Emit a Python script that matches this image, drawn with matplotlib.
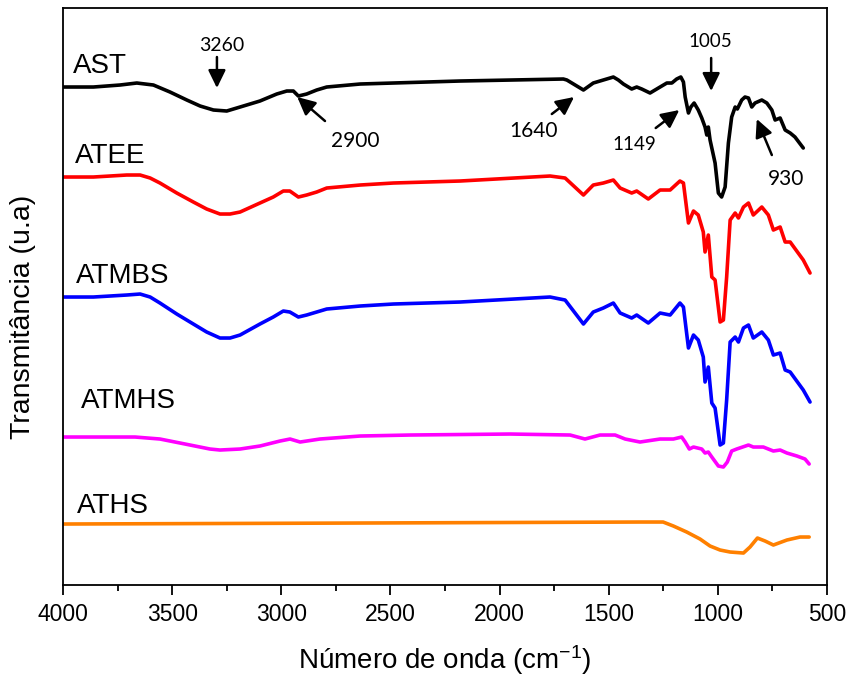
import numpy as np
import matplotlib
matplotlib.use('Agg')
import matplotlib.pyplot as plt

plt.rcParams['font.family'] = ['Liberation Sans', 'DejaVu Sans']
plt.rcParams['mathtext.fontset'] = 'custom'
plt.rcParams['mathtext.rm'] = 'Liberation Sans'

# FTIR spectra, values (arbitrary transmittance units, curves stacked)
ast_wn = [4000, 3861, 3739, 3662, 3586, 3510, 3433, 3372, 3311, 3250, 3189, 3098, 3021, 2975, 2945,
          2922, 2884, 2838, 2792, 2639, 2487, 2181,
          1708, 1692, 1654, 1616, 1571, 1479, 1456, 1433, 1395, 1372, 1349, 1311, 1265, 1234, 1211,
          1189, 1170, 1158, 1150, 1135, 1124, 1109, 1090, 1074, 1059, 1051, 1044, 1036, 1013, 998,
          983, 967, 952, 937, 921, 911, 891, 876, 860, 845, 830, 799, 776, 753, 738, 715, 692, 669,
          647, 609]
ast_t = [5.13, 5.13, 5.15, 5.17, 5.15, 5.08, 5.00, 4.94, 4.90, 4.89, 4.93, 4.99, 5.06, 5.09, 5.09,
         5.04, 5.06, 5.10, 5.13, 5.16, 5.17, 5.19,
         5.21, 5.20, 5.15, 5.10, 5.17, 5.23, 5.20, 5.16, 5.11, 5.13, 5.11, 5.07, 5.13, 5.17, 5.17,
         5.21, 5.23, 5.18, 5.03, 4.87, 4.93, 4.97, 4.90, 4.82, 4.73, 4.65, 4.73, 4.60, 4.37, 4.07,
         4.03, 4.13, 4.57, 4.83, 4.93, 4.91, 5.00, 5.03, 5.02, 4.93, 4.97, 5.00, 4.97, 4.90, 4.80,
         4.82, 4.70, 4.67, 4.63, 4.52]

atee_wn = [4000, 3861, 3708, 3647, 3601, 3556, 3479, 3403, 3342, 3281, 3235, 3189, 3098, 3037, 2991,
           2961, 2922, 2884, 2838, 2792, 2639, 2487, 2181,
           1769, 1700, 1616, 1571, 1525, 1479, 1448, 1395, 1372, 1319, 1265, 1219, 1174, 1158, 1135,
           1112, 1090, 1067, 1059, 1044, 1028, 1013, 990, 975, 960, 944, 921, 906, 883, 860, 838,
           799, 769, 746, 715, 692, 669, 609, 578]
atee_t = [4.23, 4.23, 4.25, 4.25, 4.22, 4.17, 4.07, 3.98, 3.91, 3.86, 3.86, 3.88, 3.97, 4.03, 4.09,
          4.09, 4.03, 4.05, 4.08, 4.12, 4.15, 4.17, 4.19,
          4.24, 4.22, 4.05, 4.15, 4.17, 4.20, 4.12, 4.07, 4.09, 4.01, 4.10, 4.10, 4.19, 4.17, 3.77,
          3.89, 3.85, 3.68, 3.48, 3.65, 3.23, 3.20, 2.78, 2.80, 3.23, 3.80, 3.87, 3.82, 3.93, 3.97,
          3.85, 3.93, 3.85, 3.70, 3.73, 3.58, 3.58, 3.40, 3.27]

atmbs_wn = [4000, 3861, 3708, 3647, 3601, 3556, 3479, 3403, 3342, 3281, 3235, 3189, 3098, 3037, 2991,
            2961, 2922, 2884, 2838, 2792, 2639, 2487, 2181,
            1769, 1700, 1616, 1571, 1525, 1479, 1448, 1395, 1372, 1319, 1265, 1219, 1174, 1158, 1135,
            1112, 1090, 1067, 1059, 1044, 1028, 1013, 990, 975, 960, 944, 921, 906, 883, 860, 838,
            799, 769, 746, 715, 692, 669, 609, 578]
atmbs_t = [3.03, 3.03, 3.05, 3.06, 3.03, 2.97, 2.86, 2.76, 2.68, 2.62, 2.62, 2.65, 2.76, 2.83, 2.89,
           2.88, 2.83, 2.85, 2.88, 2.91, 2.94, 2.96, 2.98,
           3.03, 3.00, 2.76, 2.88, 2.92, 2.97, 2.87, 2.82, 2.85, 2.77, 2.87, 2.85, 2.97, 2.93, 2.52,
           2.65, 2.60, 2.43, 2.18, 2.33, 1.97, 1.92, 1.55, 1.57, 2.00, 2.58, 2.63, 2.58, 2.72, 2.75,
           2.62, 2.68, 2.60, 2.45, 2.47, 2.30, 2.28, 2.10, 1.98]

atmhs_wn = [4000, 3670, 3556, 3441, 3327, 3281, 3189, 3098, 3006, 2960, 2914, 2823, 2639, 2410, 1952,
            1677, 1609, 1540, 1471, 1425, 1357, 1265, 1204, 1166, 1150, 1131, 1112, 1074, 1059, 1044,
            1028, 998, 975, 957, 937, 914, 860, 838, 792, 746, 715, 684, 638, 601, 582]
atmhs_t = [1.63, 1.63, 1.61, 1.56, 1.51, 1.50, 1.51, 1.54, 1.59, 1.61, 1.58, 1.61, 1.64, 1.65, 1.66,
           1.65, 1.61, 1.65, 1.65, 1.61, 1.58, 1.61, 1.61, 1.63, 1.58, 1.51, 1.53, 1.51, 1.47, 1.48,
           1.43, 1.34, 1.33, 1.38, 1.49, 1.51, 1.55, 1.53, 1.53, 1.49, 1.50, 1.47, 1.44, 1.41, 1.36]

aths_wn = [4000, 2639, 1357, 1251, 1204, 1143, 1082, 1036, 990, 944, 883, 853, 819, 784, 746, 684,
           624, 582]
aths_t = [0.76, 0.77, 0.78, 0.78, 0.74, 0.68, 0.61, 0.54, 0.50, 0.48, 0.47, 0.53, 0.62, 0.59, 0.55,
          0.60, 0.63, 0.63]

names = ['AST', 'ATEE', 'ATMBS', 'ATMHS', 'ATHS']
colors = ['black', '#ff0000', '#0000ff', '#ff00ff', '#ff8000']
name_x = [3954, 3945, 3940, 3919, 3936]
name_y = [5.27, 4.37, 3.17, 1.92, 0.87]

# peak marks: label, label position, arrow tail, arrow tip, font size
peaks = ['3260', '2900', '1640', '1149', '1005', '930']
peak_lbl = [(3272, 5.49), (2662, 4.53), (1847, 4.63), (1384, 4.50), (1037, 5.53), (688, 4.15)]
peak_tail = [(3295, 5.43), (2800, 4.79), (1761, 4.86), (1285, 4.72), (1031, 5.42), (753, 4.45)]
peak_tip = [(3295, 5.12), (2927, 5.03), (1659, 5.03), (1177, 4.90), (1031, 5.09), (822, 4.81)]
peak_fs = [14, 15, 15, 13.5, 13.5, 15]

fig = plt.figure(figsize=(8.53, 6.79), dpi=100)
ax = fig.add_axes([0.0739, 0.1384, 0.8957, 0.8498])

series = [(ast_wn, ast_t), (atee_wn, atee_t), (atmbs_wn, atmbs_t), (atmhs_wn, atmhs_t), (aths_wn, aths_t)]
for (wn, t), c in zip(series, colors):
    ax.plot(wn, t, color=c, lw=2.6, solid_joinstyle='round', solid_capstyle='round')

for n, x, y in zip(names, name_x, name_y):
    ax.text(x, y, n, fontsize=20, ha='left', va='baseline')

for p, lb, tl, tp, fs in zip(peaks, peak_lbl, peak_tail, peak_tip, peak_fs):
    ax.text(lb[0], lb[1], p, fontsize=fs, family=['Lato', 'DejaVu Sans'], ha='center', va='baseline')
    ax.annotate('', xy=tp, xytext=tl,
                arrowprops=dict(arrowstyle='-|>,head_length=0.45,head_width=0.22', color='black',
                                lw=1.8, mutation_scale=24, shrinkA=0, shrinkB=0))

ax.set_xlim(4000, 500)
ax.set_ylim(0.15, 5.92)
ax.set_xticks(np.arange(4000, 499, -500))
ax.set_xticks(np.arange(3750, 500, -500), minor=True)
ax.set_yticks([])
ax.tick_params(axis='x', which='major', direction='out', length=7, width=1.3, labelsize=16.5, pad=6)
ax.tick_params(axis='x', which='minor', direction='out', length=4, width=1.3)
for s in ax.spines.values():
    s.set_linewidth(1.3)

ax.set_xlabel('Número de onda (cm$\\mathregular{^{-1}}$)', fontsize=20, labelpad=12)
ax.set_ylabel('Transmitância (u.a)', fontsize=20.5)
ax.yaxis.set_label_coords(-0.036, 0.464)

fig.savefig('out.png', dpi=100)
